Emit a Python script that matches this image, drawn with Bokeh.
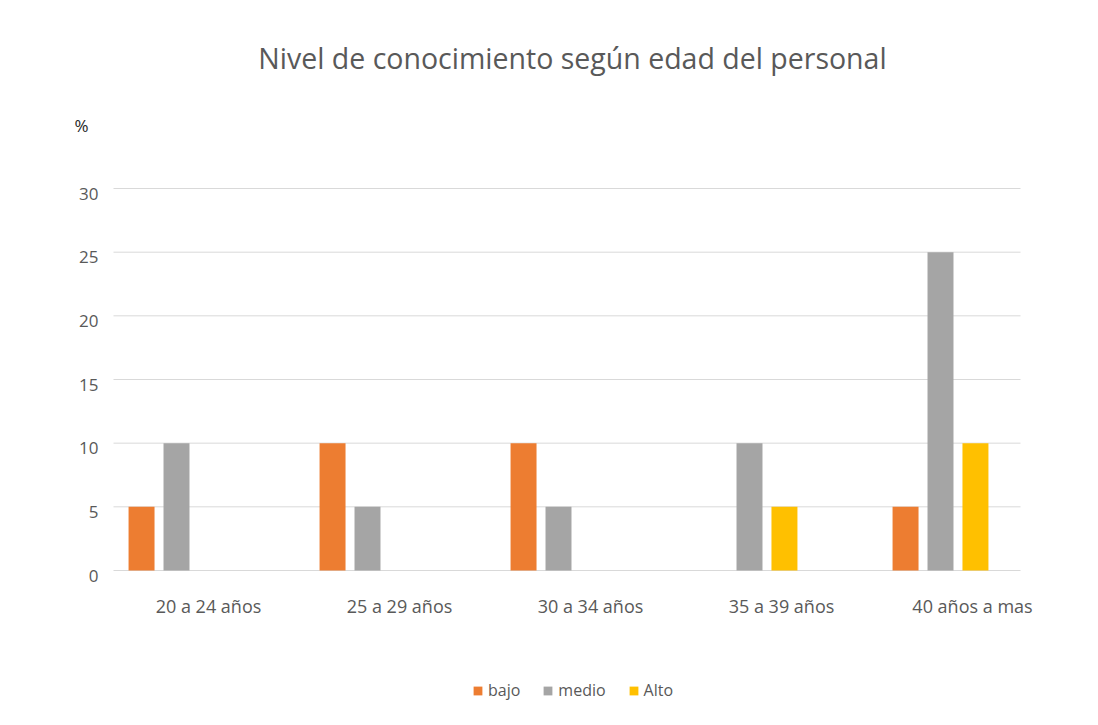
from bokeh.plotting import figure
from bokeh.models import (ColumnDataSource, Range1d, Label, LabelSet, Legend, LegendItem)
from bokeh.core.properties import value
from bokeh.transform import dodge
from bokeh.embed import file_html
from bokeh.resources import INLINE

# ---- data ----
categories = ["20 a 24 años", "25 a 29 años", "30 a 34 años", "35 a 39 años", "40 años a mas"]
bajo = [5, 10, 10, 0, 5]
medio = [10, 5, 5, 10, 25]
alto = [0, 0, 0, 5, 10]
series_names = ["bajo", "medio", "Alto"]
series_colors = ["#ED7D31", "#A5A5A5", "#FFC000"]
y_ticks = [0, 5, 10, 15, 20, 25, 30]

FONT = "Open Sans"
TXT = "#595959"
W, H = 1090, 717

# plot geometry (pixels): category 0 centre at 176 px, 191 px per category,
# value 0 at 570 px, 12.733 px per unit
PX_X, X0 = 191.0, 176.0
PX_Y, Y0 = 12.733, 570.0
x_lo, x_hi = (113 - X0) / PX_X, (1020 - X0) / PX_X   # plot-area edges (data units)

idx = list(range(len(categories)))
src = ColumnDataSource(dict(x=idx, cat=categories, bajo=bajo, medio=medio, alto=alto))
tick_src = ColumnDataSource(dict(y=y_ticks, lab=[str(t) for t in y_ticks],
                                 x0=[x_lo] * len(y_ticks), x1=[x_hi] * len(y_ticks)))

p = figure(width=W, height=H, output_backend="svg", toolbar_location=None,
           x_range=Range1d(-X0 / PX_X, (W - X0) / PX_X),
           y_range=Range1d(-(H - Y0) / PX_Y, Y0 / PX_Y),
           min_border=0, min_border_left=0, min_border_right=0,
           min_border_top=0, min_border_bottom=0)
p.outline_line_color = None
p.axis.visible = False
p.grid.visible = False
p.background_fill_color = "white"
p.border_fill_color = "white"

# gridlines
p.segment(x0="x0", x1="x1", y0="y", y1="y", source=tick_src,
          line_color="#D9D9D9", line_width=1)

# bars
renderers = []
for col, off, color in zip(["bajo", "medio", "alto"], [-0.183, 0.0, 0.183], series_colors):
    r = p.vbar(x=dodge("x", off), top=col, width=0.136, source=src,
               fill_color=color, line_color=None)
    renderers.append(r)

# y tick labels
p.add_layout(LabelSet(x="x0", y="y", text="lab", source=tick_src, x_offset=-15, y_offset=-5,
                      text_align="right", text_baseline="middle",
                      text_font=value(FONT), text_font_size=value("17px"), text_color=TXT))

# category labels
p.add_layout(LabelSet(x="x", y=H - 605, y_units="screen", text="cat", source=src,
                      x_offset=32, text_align="center", text_baseline="middle",
                      text_font=value(FONT), text_font_size=value("18px"), text_color=TXT))

# title
p.add_layout(Label(x=572, y=H - 57, x_units="screen", y_units="screen",
                   text="Nivel de conocimiento según edad del personal",
                   text_align="center", text_baseline="middle",
                   text_font=FONT, text_font_size="28.5px", text_color=TXT))
# "%" unit label
p.add_layout(Label(x=74, y=H - 125, x_units="screen", y_units="screen", text="%",
                   text_align="left", text_baseline="middle",
                   text_font=FONT, text_font_size="17px", text_color="#262626"))

legend = Legend(items=[LegendItem(label=n, renderers=[r]) for n, r in zip(series_names, renderers)],
                orientation="horizontal", location=(472, H - 701),
                glyph_width=11, glyph_height=11, label_standoff=5, spacing=22,
                padding=0, margin=0, border_line_color=None, background_fill_alpha=0,
                label_text_font=FONT, label_text_font_size="16px", label_text_color=TXT)
p.add_layout(legend, "center")

open("out.html", "w").write(file_html(p, INLINE))
